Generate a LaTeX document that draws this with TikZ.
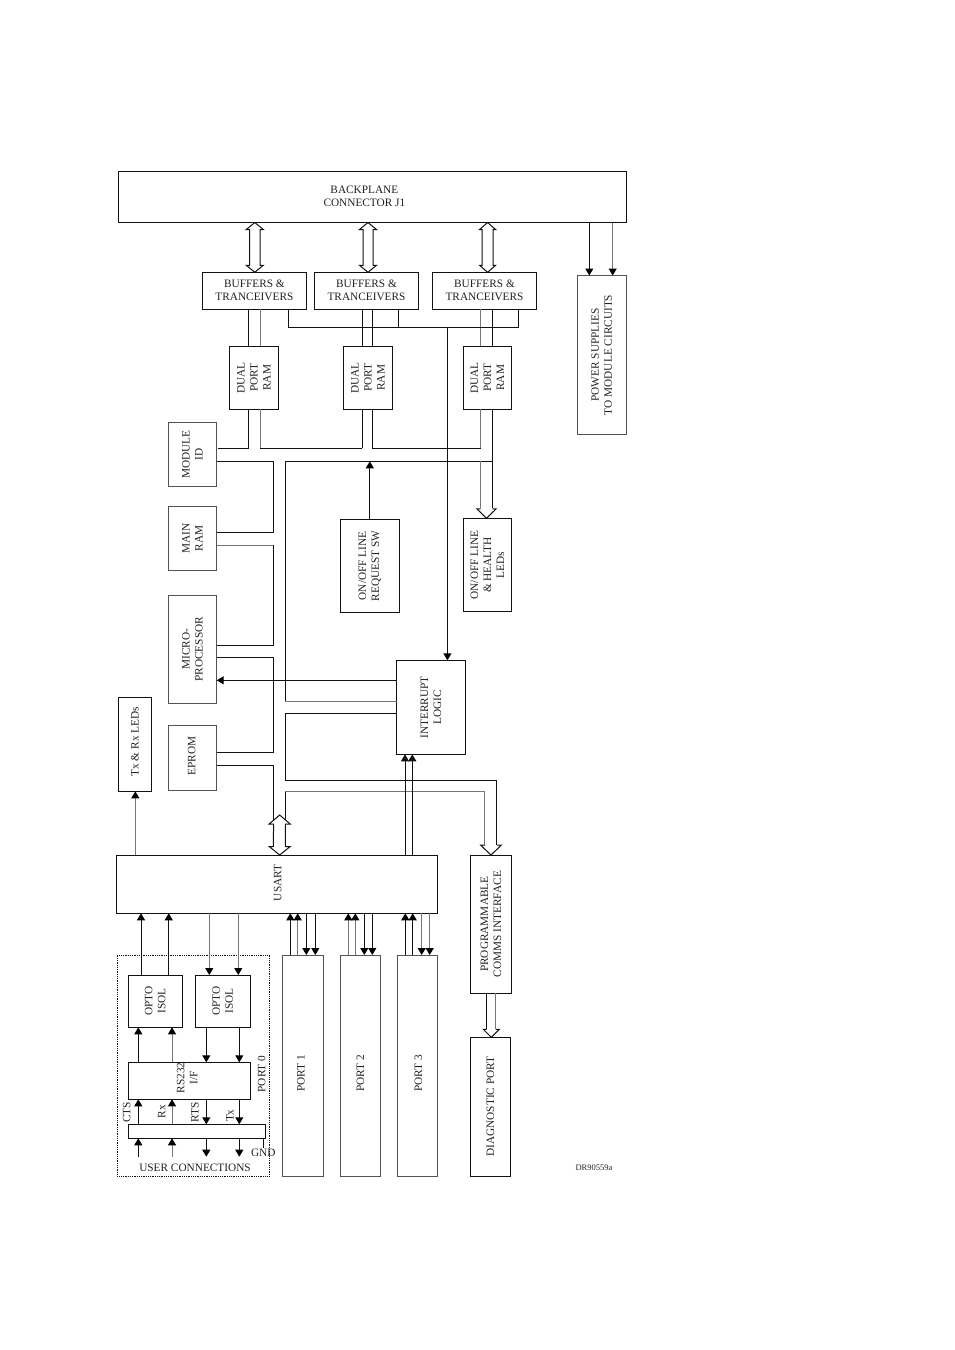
\documentclass[tikz,border=0pt]{standalone}
\usepackage{fontspec}
\setmainfont{Liberation Serif}
\usetikzlibrary{arrows.meta,calc}
\definecolor{ln}{HTML}{111111}
\definecolor{gl}{HTML}{777777}
\definecolor{tx}{HTML}{222222}
\tikzset{
  box/.style={draw=ln,line width=1pt,inner sep=0pt,outer sep=0pt,fill=white},
  gbox/.style={box,draw=gl!70!black},
  txt/.style={inner sep=0pt,text=tx,font=\fontsize{11.3}{13}\selectfont,align=center},
  rtxt/.style={txt,rotate=90},
  wire/.style={draw=ln,line width=1pt},
  gwire/.style={draw=gl,line width=1pt},
  arr/.style={wire,-{Triangle[width=8pt,length=7pt,color=black]}},
  garr/.style={gwire,-{Triangle[width=8pt,length=7pt,color=black]}},
  hollow/.style={draw=ln,line width=1pt,fill=white,line join=miter},
}
% \bx[style]{name}{x1}{y1}{x2}{y2}
\newcommand{\bx}[6][box]{%
  \pgfmathsetmacro{\bxw}{#5-#3}\pgfmathsetmacro{\bxh}{#6-#4}%
  \node[#1,minimum width=\bxw pt,minimum height=\bxh pt] (#2) at ({(#3+#5)/2},{(#4+#6)/2}) {};}
% double-headed hollow arrow from a.south to b.north: {a}{b}{xc}{half shaft}{half head}{depth}
\newcommand{\hboth}[6]{%
  \draw[hollow] (#1.south -| #3,0) -- ++(#5,#6) -- ++({#4-#5},0) -- ($(#2.north -| #3,0)+(#4,-#6)$)
    -- ++({#5-#4},0) -- (#2.north -| #3,0) -- ++(-#5,-#6) -- ++({#5-#4},0)
    -- ($(#1.south -| #3,0)+(-#4,#6)$) -- ++({#4-#5},0) -- cycle;}
% single-headed hollow arrow with its tip on b.north
\newcommand{\hdown}[6]{%
  \draw[hollow] ($(#2.north -| #3,0)+(-#4,-#6)$) -- ++({#4-#5},0) -- (#2.north -| #3,0)
    -- ++(#5,-#6) -- ++({#4-#5},0);}
\begin{document}
\begin{tikzpicture}[x=1pt,y=-1pt]
\useasboundingbox (0,0) rectangle (954,1350);
% boxes
\bx{bp}{118.3}{171.5}{626.5}{222.5}
\bx{b1}{202.3}{272.3}{306.5}{309.3}
\bx{b2}{314.5}{272.3}{418.5}{309.3}
\bx{b3}{432.5}{272.3}{536.5}{309.3}
\bx{d1}{229.3}{346.3}{278.4}{409.3}
\bx{d2}{343.3}{346.3}{392.3}{409.3}
\bx{d3}{463.3}{346.3}{511.5}{409.3}
\bx[gbox]{ps}{577}{275.5}{626.5}{434.3}
\bx[gbox]{mid}{168.3}{422.7}{216.7}{486.3}
\bx[gbox]{ram}{168.3}{506.3}{216.7}{570.7}
\bx[gbox]{mpu}{168.3}{595.3}{216.7}{703.3}
\bx[gbox]{epr}{168.3}{725}{216.7}{790.3}
\bx{sw}{340.3}{519.3}{399.3}{612.3}
\bx{led}{463.3}{518.3}{511.7}{611.7}
\bx{irq}{396.7}{660.3}{465.3}{754.3}
\bx{txl}{118.3}{697.3}{151.7}{791.3}
\bx{us}{116.3}{855}{437.3}{913.3}
\bx{pg}{470.3}{855}{511.5}{993.3}
\bx{dg}{470.3}{1037.3}{510.7}{1176}
\bx[gbox]{p1}{282.3}{955}{323.7}{1176}
\bx[gbox]{p2}{340.3}{955}{380.7}{1176}
\bx[gbox]{p3}{397.3}{955}{437.7}{1176}
\bx{o1}{128.3}{975}{182.3}{1027.3}
\bx{o2}{195.3}{975}{250.3}{1027.3}
\bx{rs}{128.3}{1062.3}{250.3}{1099.3}
\bx{bar}{128.3}{1124.3}{265.3}{1138.3}
\node[draw=ln,line width=.8pt,densely dotted,inner sep=0pt,minimum width=152pt,minimum height=220.7pt] (uc) at (193.3,1065.6) {};
% free ends of the user wiring and buses
\coordinate (ue) at (0,1156.7);
\coordinate (gn) at (263.7,1148.3);
\coordinate (jT) at (288.5,327.3);
\coordinate (jI) at (447.4,327.3);
\coordinate (h1L) at (248,448.3);
\coordinate (h1R) at (218,448.3);
\coordinate (h2L) at (260,448.3);
\coordinate (h2R) at (362,448.3);
\coordinate (h3L) at (372.3,448.3);
\coordinate (h3R) at (480.7,448.3);
\coordinate (v1) at (273.3,461.3);
\coordinate (v2) at (285.3,461.3);
\coordinate (v2e) at (493,461.3);
\coordinate (tk) at (480.7,461.3);
% texts
\node[txt] (tbp) at ($(bp.center)+(-8,-.5)$) {BACKPLANE\\CONNECTOR J1};
\node[txt] (tb1) at (b1) {BUFFERS \&\\TRANCEIVERS};
\node[txt] (tb2) at (b2) {BUFFERS \&\\TRANCEIVERS};
\node[txt] (tb3) at (b3) {BUFFERS \&\\TRANCEIVERS};
\node[rtxt] (td1) at (d1) {DUAL\\PORT\\RAM};
\node[rtxt] (td2) at (d2) {DUAL\\PORT\\RAM};
\node[rtxt] (td3) at (d3) {DUAL\\PORT\\RAM};
\node[rtxt] (tps) at (ps) {POWER SUPPLIES\\TO MODULE CIRCUITS};
\node[rtxt] (tmid) at (mid) {MODULE\\ID};
\node[rtxt] (tram) at (ram) {MAIN\\RAM};
\node[rtxt] (tmpu) at (mpu) {MICRO-\\PROCESSOR};
\node[rtxt] (tepr) at ($(epr.center)+(-.8,-1.5)$) {EPROM};
\node[rtxt] (tsw) at (sw) {ON/OFF LINE\\REQUEST SW};
\node[rtxt] (tled) at (led) {ON/OFF LINE\\\& HEALTH\\LEDs};
\node[rtxt] (tirq) at (irq) {INTERRUPT\\LOGIC};
\node[rtxt] (ttxl) at ($(txl.center)+(0,-2.5)$) {Tx \& Rx LEDs};
\node[rtxt] (tus) at ($(us.center)+(.8,-1.3)$) {USART};
\node[rtxt] (tpg) at (pg) {PROGRAMMABLE\\COMMS INTERFACE};
\node[rtxt] (tdg) at (dg) {DIAGNOSTIC PORT};
\node[rtxt] (tp1) at ($(p1.center)+(-2,8)$) {PORT 1};
\node[rtxt] (tp2) at ($(p2.center)+(0,8)$) {PORT 2};
\node[rtxt] (tp3) at ($(p3.center)+(1,8)$) {PORT 3};
\node[rtxt] (to1) at (o1) {OPTO\\ISOL};
\node[rtxt] (to2) at (o2) {OPTO\\ISOL};
\node[rtxt] (trs) at ($(rs.center)+(-2,-3)$) {RS232\\I/F};
\node[rtxt] (tp0) at (261.7,1074) {PORT 0};
\node[rtxt] (tcts) at (126.7,1112.3) {CTS};
\node[rtxt] (trx) at (161.7,1111.7) {Rx};
\node[rtxt] (trts) at (195,1112) {RTS};
\node[rtxt] (ttx) at (230,1115.7) {Tx};
\node[txt] (tgnd) at (263.3,1152.7) {GND};
\node[txt] (tuc) at (195,1167.7) {USER CONNECTIONS};
\node[txt,font=\fontsize{8.5}{10}\selectfont] (tdr) at (594,1167.3) {DR90559a};
% backplane links
\hboth{bp}{b1}{254.8}{5.2}{8.5}{7}
\hboth{bp}{b2}{368}{5}{8.5}{7}
\hboth{bp}{b3}{487.6}{5.5}{8}{7}
\draw[arr] (bp.south -| 589.3,0) -- (ps.north -| 589.3,0);
\draw[garr] (bp.south -| 612.7,0) -- (ps.north -| 612.7,0);
% buffers to dual port RAM
\draw[wire] (b1.south -| 248,0) -- (d1.north -| 248,0);
\draw[gwire] (b1.south -| 260,0) -- (d1.north -| 260,0);
\draw[wire] (b2.south -| 362,0) -- (d2.north -| 362,0);
\draw[wire] (b2.south -| 372.3,0) -- (d2.north -| 372.3,0);
\draw[gwire] (b3.south -| 480.7,0) -- (d3.north -| 480.7,0);
\draw[wire] (b3.south -| 492.3,0) -- (d3.north -| 492.3,0);
% buffers enable bus to interrupt logic
\draw[wire] (b1.south -| jT) -- (jT) -- (jT -| 518.3,0) -- (b3.south -| 518.3,0);
\draw[wire] (b2.south -| 398.3,0) -- (jT -| 398.3,0);
\draw[arr] (jI) -- (irq.north -| jI);
% dual port RAM lower buses
\draw[wire] (d1.south -| h1L) -- (h1L) -- (h1R);
\draw[gwire] (d1.south -| h2L) -- (h2L);
\draw[wire] (h2L) -- (h2R);
\draw[wire] (h2R) -- (d2.south -| h2R);
\draw[wire] (d2.south -| h3L) -- (h3L) -- (h3R);
\draw[gwire] (h3R) -- (d3.south -| h3R);
% address/data ladder on the left
\draw[wire] (mid.east |- v1) -- (v1) -- (v1 |- 0,532.7) -- (ram.east |- 0,532.7);
\draw[gwire] (ram.east |- 0,545.3) -- (v1 |- 0,545.3);
\draw[wire] (v1 |- 0,545.3) -- (v1 |- 0,645.3) -- (mpu.east |- 0,645.3);
\draw[wire] (mpu.east |- 0,657.3) -- (v1 |- 0,657.3) -- (v1 |- 0,752.3) -- (epr.east |- 0,752.3);
% right-hand bus
\draw[wire] (v2e) -- (v2) -- (v2 |- 0,701);
\draw[gwire] (v2 |- 0,701) -- (irq.west |- 0,701);
\draw[wire] (irq.west |- 0,713.3) -- (v2 |- 0,713.3) -- (v2 |- 0,780) -- (496.7,780);
% USART hollow arrow with its two tails
\draw[wire] (epr.east |- 0,765.3) -- (v1 |- 0,765.3) -- (v1 |- 0,825);
\draw[gwire] (pg.north -| 484.7,0) ++(0,-10) -- (484.7,791.7) -- (v2 |- 0,791.7);
\draw[wire] (v2 |- 0,791.7) -- (v2 |- 0,825);
\draw[hollow] (273.6,824) -- ++(-4.5,0) -- (279.7,815) -- ++(10.5,9) -- (285.3,824) -- (285.3,846.5) -- ++(4.9,0) -- (us.north -| 279.7,0) -- ++(-10.5,-8.5) -- (273.3,846.5) -- cycle;
% tails into the programmable interface
\draw[wire] (496.7,780) -- (496.7,845);
\hdown{v2}{pg}{491}{6}{10.5}{10}
% LEDs
\draw[wire] (d3.south -| 492.3,0) -- (492.3,508);
\draw[gwire] (tk) -- (480.7,508);
\hdown{tk}{led}{486.5}{5.9}{9.7}{9.5}
\draw[arr] (sw.north) -- (sw.north |- v2);
\draw[arr] (irq.west |- 0,680.3) -- (mpu.east |- 0,680.3);
\draw[garr] (us.north -| 135.3,0) -- (txl.south -| 135.3,0);
\draw[wire,-{Triangle[width=8pt,length=7pt]}] (us.north -| 405,0) -- (irq.south -| 405,0);
\draw[wire,-{Triangle[width=8pt,length=7pt]}] (us.north -| 412.3,0) -- (irq.south -| 412.3,0);
% below the USART
\draw[arr] (o1.north -| 141,0) -- (us.south -| 141,0);
\draw[arr] (o1.north -| 168.7,0) -- (us.south -| 168.7,0);
\draw[garr] (us.south -| 209.3,0) -- (o2.north -| 209.3,0);
\draw[garr] (us.south -| 238.3,0) -- (o2.north -| 238.3,0);
\draw[arr] (rs.north -| 138.3,0) -- (o1.south -| 138.3,0);
\draw[garr] (rs.north -| 172,0) -- (o1.south -| 172,0);
\draw[arr] (o2.south -| 206.3,0) -- (rs.north -| 206.3,0);
\draw[arr] (o2.south -| 239.3,0) -- (rs.north -| 239.3,0);
\draw[arr] (bar.north -| 138.3,0) -- (rs.south -| 138.3,0);
\draw[garr] (bar.north -| 172,0) -- (rs.south -| 172,0);
\draw[arr] (rs.south -| 206.3,0) -- (bar.north -| 206.3,0);
\draw[arr] (rs.south -| 239.3,0) -- (bar.north -| 239.3,0);
\draw[arr] (ue -| 138.3,0) -- (bar.south -| 138.3,0);
\draw[garr] (ue -| 172,0) -- (bar.south -| 172,0);
\draw[arr] (bar.south -| 206.3,0) -- (ue -| 206.3,0);
\draw[arr] (bar.south -| 239.3,0) -- (ue -| 239.3,0);
\draw[wire] (bar.south -| gn) -- (gn);
% ports
\draw[arr] (p1.north -| 290.3,0) -- (us.south -| 290.3,0);
\draw[garr] (p1.north -| 297.7,0) -- (us.south -| 297.7,0);
\draw[arr] (us.south -| 306.3,0) -- (p1.north -| 306.3,0);
\draw[arr] (us.south -| 315.3,0) -- (p1.north -| 315.3,0);
\draw[garr] (p2.north -| 348.3,0) -- (us.south -| 348.3,0);
\draw[garr] (p2.north -| 355.3,0) -- (us.south -| 355.3,0);
\draw[arr] (us.south -| 364.3,0) -- (p2.north -| 364.3,0);
\draw[arr] (us.south -| 372.3,0) -- (p2.north -| 372.3,0);
\draw[arr] (p3.north -| 405.3,0) -- (us.south -| 405.3,0);
\draw[arr] (p3.north -| 412.7,0) -- (us.south -| 412.7,0);
\draw[garr] (us.south -| 421.7,0) -- (p3.north -| 421.7,0);
\draw[garr] (us.south -| 429.7,0) -- (p3.north -| 429.7,0);
% diagnostic port
\draw[wire] (pg.south -| 486.3,0) -- (486.3,1030);
\draw[gwire] (pg.south -| 495.3,0) -- (495.3,1030);
\hdown{pg}{dg}{491.3}{4.6}{8}{8}
\end{tikzpicture}
\end{document}
